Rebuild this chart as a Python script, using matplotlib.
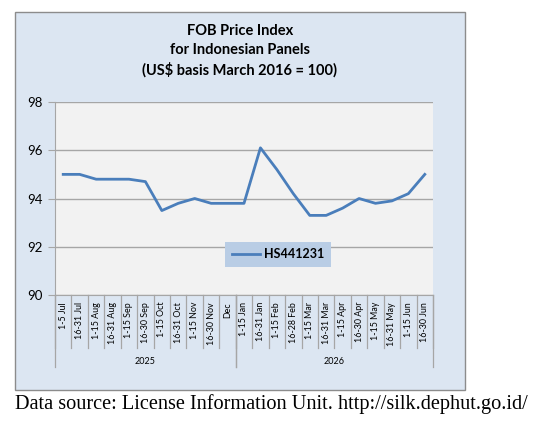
import matplotlib
matplotlib.use("Agg")
import matplotlib.pyplot as plt
import matplotlib.transforms as mtransforms
from matplotlib.patches import Rectangle

# periods (half-month buckets) and index values
periods = ["1-5 Jul", "16-31 Jul", "1-15 Aug", "16-31 Aug", "1-15 Sep", "16-30 Sep",
           "1-15 Oct", "16-31 Oct", "1-15 Nov", "16-30 Nov", "Dec",
           "1-15 Jan", "16-31 Jan", "1-15 Feb", "16-28 Feb", "1-15 Mar", "16-31 Mar",
           "1-15 Apr", "16-30 Apr", "1-15 May", "16-31 May", "1-15 Jun", "16-30 Jun"]
hs441231 = [95.0, 95.0, 94.8, 94.8, 94.8, 94.7, 93.5, 93.8, 94.0, 93.8, 93.8,
            93.8, 96.1, 95.2, 94.2, 93.3, 93.3, 93.6, 94.0, 93.8, 93.9, 94.2, 95.0]
years = ["2025", "2026"]
year_counts = [11, 12]

plt.rcParams['font.family'] = ['Lato', 'DejaVu Sans']

fig = plt.figure(figsize=(5.45, 4.22), dpi=100)
fig.patches.append(Rectangle((15 / 545, 1 - 390 / 422), 450 / 545, 378 / 422,
                             transform=fig.transFigure, facecolor="#DCE6F2",
                             edgecolor="#8C8C8C", linewidth=1.0, zorder=-10))

ax = fig.add_axes([55 / 545, 1 - 295 / 422, 378 / 545, 193 / 422])
ax.set_facecolor("#F2F2F2")

x = list(range(len(periods)))
ax.plot(x, hs441231, color="#4A7EBB", linewidth=2.0, label="HS441231", zorder=3)

ax.set_xlim(-0.5, len(periods) - 0.5)
ax.set_ylim(90, 98)
ax.set_yticks([90, 92, 94, 96, 98])
ax.yaxis.grid(True, color="#A6A6A6", linewidth=1.0)
ax.set_axisbelow(True)
ax.tick_params(axis="y", labelsize=9.5, length=5, color="#A6A6A6", pad=4)
ax.set_xticks(x)
ax.set_xticklabels(periods, rotation=90, fontsize=6.4)
ax.tick_params(axis="x", length=0, pad=5)
for s in ["top", "right"]:
    ax.spines[s].set_visible(False)
ax.spines["left"].set_color("#A6A6A6")
ax.spines["bottom"].set_color("#A6A6A6")

# category separators and year groups under the axis
trans = mtransforms.blended_transform_factory(ax.transData, ax.transAxes)
for i in range(len(periods) + 1):
    ax.plot([i - 0.5, i - 0.5], [0, -0.275], transform=trans, color="#A6A6A6",
            linewidth=0.9, clip_on=False)
start = 0
for name, n in zip(years, year_counts):
    for edge in (start, start + n):
        ax.plot([edge - 0.5, edge - 0.5], [0, -0.375], transform=trans, color="#A6A6A6",
                linewidth=0.9, clip_on=False)
    ax.text(start + n / 2 - 0.5, -0.342, name, transform=trans, ha="center", va="center",
            fontsize=6.5)
    start += n

leg = ax.legend(loc="center", bbox_to_anchor=(0.59, 0.21), frameon=True, fancybox=False,
                prop={"weight": "bold", "size": 9}, handlelength=2.3, handletextpad=0.3,
                borderpad=0.55, borderaxespad=0)
leg.get_frame().set_facecolor("#B9CDE5")
leg.get_frame().set_edgecolor("none")
leg.get_frame().set_alpha(1)

fig.text(240 / 545, 1 - 51 / 422,
         "FOB Price Index\nfor Indonesian Panels\n(US$ basis March 2016 = 100)",
         ha="center", va="center", fontsize=10.5, fontweight="bold", linespacing=1.45)

fig.text(15 / 545, 1 - 404 / 422, "Data source: License Information Unit. http://silk.dephut.go.id/",
         ha="left", va="center", fontsize=14.6, family="Liberation Serif")

fig.savefig("out.png", dpi=100)
